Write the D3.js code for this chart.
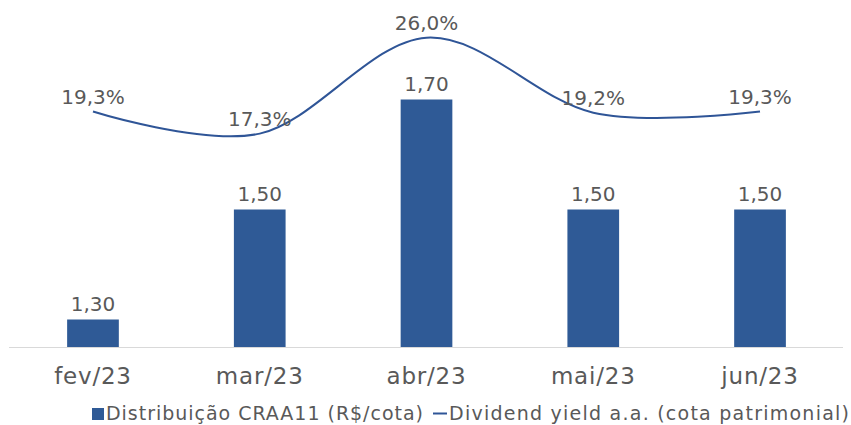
<!DOCTYPE html>
<html>
<head>
<meta charset="utf-8">
<script src="https://cdn.jsdelivr.net/npm/d3@7"></script>
<style>
  body { margin: 0; background: #fff; }
  text { font-family: "DejaVu Sans", sans-serif; fill: #595959; }
</style>
</head>
<body>
<div id="chart"></div>
<script>
var months = ['fev/23', 'mar/23', 'abr/23', 'mai/23', 'jun/23'];
var distribution = [1.30, 1.50, 1.70, 1.50, 1.50];
var dividendYield = [19.3, 17.3, 26.0, 19.2, 19.3];
var legendLabels = ['Distribuição CRAA11 (R$/cota)', 'Dividend yield a.a. (cota patrimonial)'];

var width = 851, height = 425;
var barColor = '#2F5A96';
var lineColor = '#2F5597';
var baseY = 347;

var svg = d3.select('#chart').append('svg')
  .attr('width', width)
  .attr('height', height);

var x = d3.scaleBand()
  .domain(months)
  .range([9.6, 843.4]);

// primary axis (bars)
var y = d3.scaleLinear()
  .domain([1.25, 1.8])
  .range([baseY, baseY - 0.55 * 550]);

// secondary axis (line)
var y2 = d3.scaleLinear()
  .domain([0, 30])
  .range([324.5, -6.5]);

var barW = x.bandwidth() * 0.31;

svg.selectAll('rect.bar')
  .data(distribution)
  .enter().append('rect')
  .attr('class', 'bar')
  .attr('x', function (d, i) { return x(months[i]) + (x.bandwidth() - barW) / 2; })
  .attr('y', function (d) { return y(d); })
  .attr('width', barW)
  .attr('height', function (d) { return baseY - y(d); })
  .attr('fill', barColor);

// axis line
svg.append('line')
  .attr('x1', 9).attr('x2', 843)
  .attr('y1', baseY + 0.5).attr('y2', baseY + 0.5)
  .attr('stroke', '#D9D9D9')
  .attr('stroke-width', 1);

// category labels
svg.selectAll('text.cat')
  .data(months)
  .enter().append('text')
  .attr('class', 'cat')
  .attr('x', function (d) { return x(d) + x.bandwidth() / 2; })
  .attr('y', 384)
  .attr('text-anchor', 'middle')
  .style('font-size', '23px')
  .style('letter-spacing', '0.8px')
  .text(function (d) { return d; });

// bar value labels
svg.selectAll('text.barlabel')
  .data(distribution)
  .enter().append('text')
  .attr('class', 'barlabel')
  .attr('x', function (d, i) { return x(months[i]) + x.bandwidth() / 2; })
  .attr('y', function (d) { return y(d) - 9; })
  .attr('text-anchor', 'middle')
  .style('font-size', '20px')
  .text(function (d) { return d.toFixed(2).replace('.', ','); });

// dividend yield line
var line = d3.line()
  .x(function (d, i) { return x(months[i]) + x.bandwidth() / 2; })
  .y(function (d) { return y2(d); })
  .curve(d3.curveCatmullRom.alpha(0));

svg.append('path')
  .datum(dividendYield)
  .attr('d', line)
  .attr('fill', 'none')
  .attr('stroke', lineColor)
  .attr('stroke-width', 2);

svg.selectAll('text.linelabel')
  .data(dividendYield)
  .enter().append('text')
  .attr('class', 'linelabel')
  .attr('x', function (d, i) { return x(months[i]) + x.bandwidth() / 2; })
  .attr('y', function (d) { return y2(d) - 8; })
  .attr('text-anchor', 'middle')
  .style('font-size', '20px')
  .text(function (d) { return d.toFixed(1).replace('.', ',') + '%'; });

// legend
var legend = svg.append('g');
legend.append('rect')
  .attr('x', 92).attr('y', 408)
  .attr('width', 12).attr('height', 12)
  .attr('fill', barColor);
legend.append('text')
  .attr('x', 106).attr('y', 420)
  .style('font-size', '19px')
  .attr('textLength', 317)
  .text(legendLabels[0]);
legend.append('line')
  .attr('x1', 433).attr('x2', 447)
  .attr('y1', 413.5).attr('y2', 413.5)
  .attr('stroke', lineColor)
  .attr('stroke-width', 2);
legend.append('text')
  .attr('x', 449).attr('y', 420)
  .style('font-size', '19px')
  .attr('textLength', 400)
  .text(legendLabels[1]);
</script>
</body>
</html>
